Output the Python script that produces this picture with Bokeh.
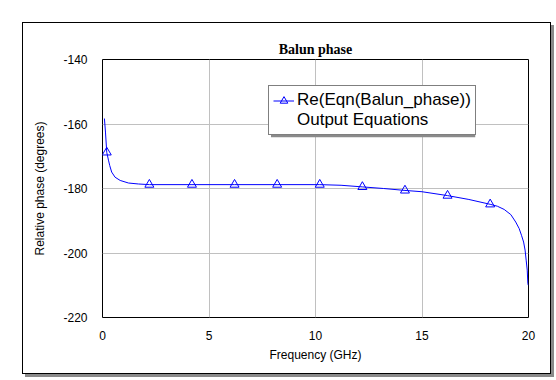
from bokeh.plotting import figure
from bokeh.models import Range1d, Legend, LegendItem, BoxAnnotation, FixedTicker
from bokeh.embed import file_html
from bokeh.resources import INLINE

# ---- data ----
freq = [0.09, 0.14, 0.2, 0.28, 0.34, 0.43, 0.59, 0.83, 1.22, 1.69, 2.2, 4.2, 6.2, 8.2,
        10.2, 11.2, 12.2, 13.2, 14.2, 15.0, 16.2, 17.2, 18.2, 18.54, 18.86, 19.17,
        19.4, 19.56, 19.67, 19.77, 19.84, 19.89, 19.94, 19.97, 19.99]
phase = [-158.3, -162.5, -168.8, -171.2, -172.9, -174.9, -176.5, -177.5, -178.3, -178.6,
         -178.8, -178.8, -178.8, -178.8, -178.8, -179.0, -179.5, -180.0, -180.6, -181.0,
         -182.2, -183.4, -184.9, -185.5, -186.5, -188.1, -190.4, -192.4, -194.5, -196.6,
         -199.1, -202.2, -205.3, -209.5, -210.0]
marker_freq = [0.2, 2.2, 4.2, 6.2, 8.2, 10.2, 12.2, 14.2, 16.2, 18.2]
marker_phase = [-168.8, -178.8, -178.8, -178.8, -178.8, -178.8, -179.5, -180.6, -182.2, -184.9]
x_ticks = [0, 5, 10, 15, 20]
y_ticks = [-220, -200, -180, -160, -140]
y_tick_labels = ["-220", "-200", "-180", "-160", "-140"]
series_label = "Re(Eqn(Balun_phase))"
source_label = "Output Equations"

FONT = "Liberation Sans"

p = figure(width=529, height=352, output_backend="svg", toolbar_location=None,
           x_range=Range1d(0, 20), y_range=Range1d(-220, -140),
           min_border_left=79, min_border_right=24, min_border_top=36, min_border_bottom=58,
           margin=(22, 0, 0, 22),
           styles={"border": "1px solid black", "box-shadow": "3px 3px 0 #8a8a8a"})

p.title.text = "Balun phase"
p.title.align = "center"
p.title.text_font = "Liberation Serif"
p.title.text_font_style = "bold"
p.title.text_font_size = "14px"
p.title.text_color = "black"
p.title.standoff = 6

p.outline_line_color = "black"
p.outline_line_width = 1
p.background_fill_color = "white"
p.border_fill_color = "white"

for ax in (p.xaxis, p.yaxis):
    ax.axis_line_color = None
    ax.major_tick_line_color = None
    ax.minor_tick_line_color = None
    ax.major_tick_in = 0
    ax.major_tick_out = 0
    ax.minor_tick_in = 0
    ax.minor_tick_out = 0
    ax.major_label_text_font = FONT
    ax.major_label_text_font_size = "12px"
    ax.major_label_text_color = "black"
    ax.axis_label_text_font = FONT
    ax.axis_label_text_font_size = "12px"
    ax.axis_label_text_font_style = "normal"
    ax.axis_label_text_color = "black"

p.xaxis.ticker = FixedTicker(ticks=x_ticks)
p.yaxis.ticker = FixedTicker(ticks=y_ticks)
p.yaxis.major_label_overrides = dict(zip(y_ticks, y_tick_labels))
p.xaxis.axis_label = "Frequency (GHz)"
p.yaxis.axis_label = "Relative phase (degrees)"
p.xaxis.major_label_standoff = 13
p.xaxis.axis_label_standoff = 5
p.yaxis.major_label_standoff = 15
p.yaxis.axis_label_standoff = 13

p.grid.grid_line_color = "#c0c0c0"
p.grid.grid_line_width = 1

line_r = p.line(freq, phase, line_color="#0000ff", line_width=1)
mark_r = p.scatter(marker_freq, marker_phase, marker="triangle", size=9,
                   line_color="#0000ff", line_width=1, fill_alpha=0)
dummy = p.line([], [], line_alpha=0)

shadow = BoxAnnotation(left=7.91, right=17.5, top=-149.83, bottom=-164.09,
                       fill_color="#8a8a8a", fill_alpha=1, line_color=None)
p.add_layout(shadow)

legend = Legend(items=[LegendItem(label=series_label, renderers=[line_r, mark_r]),
                       LegendItem(label=source_label, renderers=[dummy])],
                location=(166, 182), orientation="vertical",
                padding=4, spacing=0, margin=0,
                glyph_width=21, glyph_height=19, label_height=19, label_standoff=3,
                label_text_font=FONT, label_text_font_size="17px", label_text_color="black",
                border_line_color="black", border_line_width=1,
                background_fill_color="white", background_fill_alpha=1)
p.add_layout(legend)

open("out.html", "w").write(file_html(p, INLINE))
